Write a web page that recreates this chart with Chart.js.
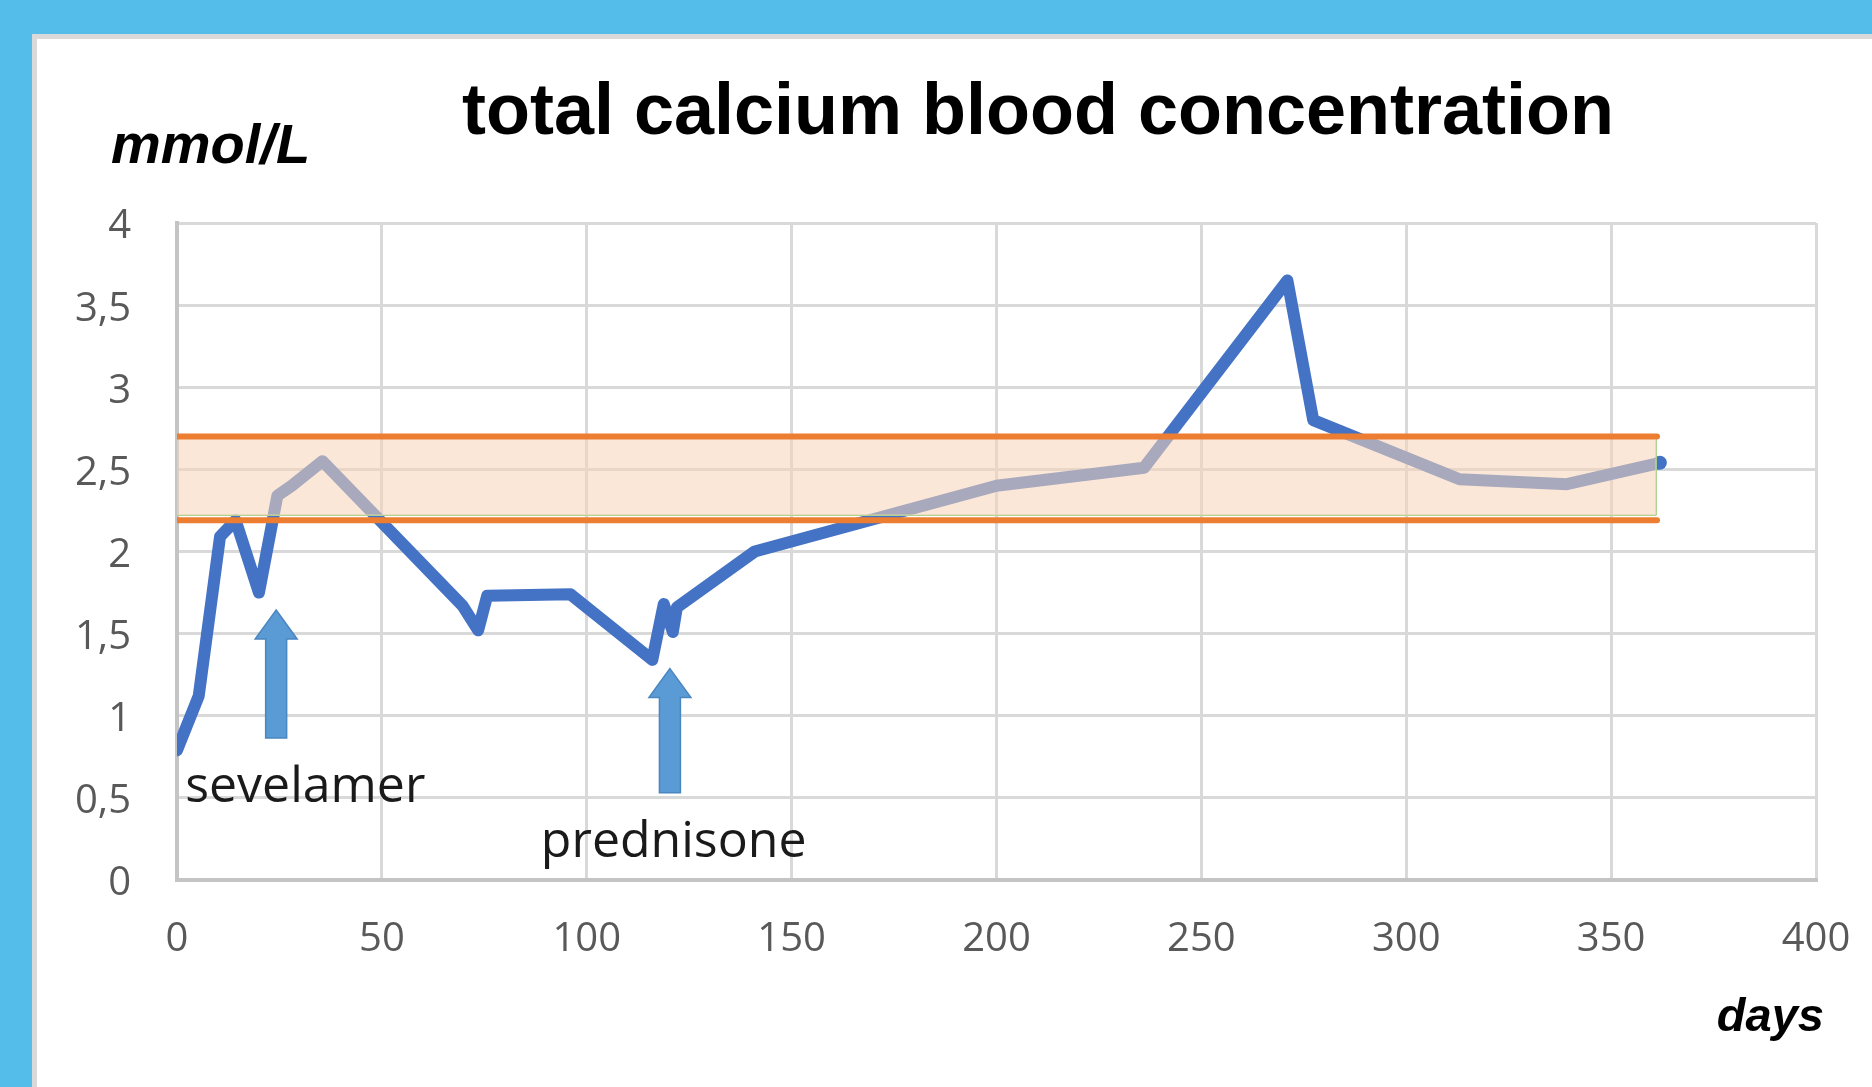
<!DOCTYPE html>
<html>
<head>
<meta charset="utf-8">
<script src="https://cdn.jsdelivr.net/npm/chart.js@4.4.1/dist/chart.umd.min.js"></script>
<style>
    html, body { margin: 0; padding: 0; }
    body { width: 1872px; height: 1087px; background: #54bdea; position: relative; overflow: hidden; }
    #panel {
        position: absolute; left: 32px; top: 34px; right: 0; bottom: 0;
        background: #ffffff; border-left: 5px solid #d9d9d9; border-top: 5px solid #d9d9d9;
    }
    #chart { position: absolute; left: 0; top: 0; }
</style>
</head>
<body>
<div id="panel"></div>
<canvas id="chart" width="1872" height="1087"></canvas>
<script>
// measured days and total calcium (mmol/L)
const days = [0, 5.3, 10.5, 14.3, 20, 24.5, 28, 35.5, 69.7, 73.5, 75.7, 96, 116, 118.8, 121, 122, 141, 200, 236, 271, 277.3, 313, 339.2, 361.9];
const calcium = [0.79, 1.12, 2.09, 2.19, 1.75, 2.34, 2.40, 2.55, 1.67, 1.52, 1.73, 1.74, 1.34, 1.68, 1.51, 1.66, 2.0, 2.40, 2.51, 3.65, 2.80, 2.44, 2.41, 2.54];

// reference range
const refLow = 2.19;
const refHigh = 2.70;
const bandLow = 2.22;
const bandHigh = 2.69;
const refStart = 0;
const refEnd = 361.2;
const bandEnd = 361;

// axis ticks
const xTicks = [0, 50, 100, 150, 200, 250, 300, 350, 400];
const yTicks = [0, 0.5, 1, 1.5, 2, 2.5, 3, 3.5, 4];

// treatment markers
const treatments = ['sevelamer', 'prednisone'];
const treatmentDay = [24.2, 120.3];
const arrowFrom = [0.865, 0.531];
const arrowTo = [1.644, 1.287];
const labelDay = [2, 88.8];
const labelValue = [0.475, 0.14];

const BLUE = '#4472c4';
const ORANGE = '#ed7d31';
const GREEN = '#a9d18e';

const pts = (xs, ys) => xs.map((x, i) => ({ x: x, y: ys[i] }));

const annotations = {
    id: 'annotations',
    afterDatasetsDraw(chart) {
        const ctx = chart.ctx;
        const xs = chart.scales.x, ys = chart.scales.y;

        // arrows
        treatmentDay.forEach((d, i) => {
            const cx = xs.getPixelForValue(d);
            const yTip = ys.getPixelForValue(arrowTo[i]);
            const yBot = ys.getPixelForValue(arrowFrom[i]);
            const headH = 29, headW = 21, shaftW = 10.5;
            ctx.save();
            ctx.beginPath();
            ctx.moveTo(cx, yTip);
            ctx.lineTo(cx + headW, yTip + headH);
            ctx.lineTo(cx + shaftW, yTip + headH);
            ctx.lineTo(cx + shaftW, yBot);
            ctx.lineTo(cx - shaftW, yBot);
            ctx.lineTo(cx - shaftW, yTip + headH);
            ctx.lineTo(cx - headW, yTip + headH);
            ctx.closePath();
            ctx.fillStyle = '#5b9bd5';
            ctx.fill();
            ctx.strokeStyle = '#4a86c0';
            ctx.lineWidth = 1.5;
            ctx.stroke();
            ctx.restore();
        });

        // treatment labels
        ctx.save();
        ctx.fillStyle = '#1a1a1a';
        ctx.font = '50px "Open Sans"';
        ctx.textAlign = 'left';
        ctx.textBaseline = 'alphabetic';
        treatments.forEach((t, i) => {
            ctx.fillText(t, xs.getPixelForValue(labelDay[i]), ys.getPixelForValue(labelValue[i]));
        });
        ctx.restore();
    },
    afterDraw(chart) {
        const ctx = chart.ctx;
        const area = chart.chartArea;
        ctx.save();
        ctx.fillStyle = '#000000';
        ctx.textBaseline = 'alphabetic';

        ctx.font = 'bold 72px "Liberation Sans", Arial, sans-serif';
        ctx.textAlign = 'center';
        ctx.fillText('total calcium blood concentration', 1038, 134);

        ctx.font = 'italic bold 56px "Liberation Sans", Arial, sans-serif';
        ctx.textAlign = 'left';
        ctx.fillText('mmol/L', 111, 163);

        ctx.font = 'italic bold 47px "Liberation Sans", Arial, sans-serif';
        ctx.textAlign = 'right';
        ctx.fillText('days', area.right + 8, 1031);
        ctx.restore();
    }
};

new Chart(document.getElementById('chart'), {
    type: 'line',
    data: {
        datasets: [
            {
                label: 'calcium',
                data: pts(days, calcium),
                borderColor: BLUE,
                backgroundColor: BLUE,
                borderWidth: 12,
                borderJoinStyle: 'round',
                borderCapStyle: 'round',
                pointRadius: c => (c.dataIndex === days.length - 1 ? 7 : 0),
                pointBorderWidth: 0,
                fill: false,
                order: 3
            },
            {
                label: 'band top',
                data: pts([refStart, bandEnd], [bandHigh, bandHigh]),
                borderColor: GREEN,
                borderWidth: 1.5,
                backgroundColor: 'rgba(248, 212, 184, 0.56)',
                pointRadius: 0,
                fill: '+1',
                order: 2
            },
            {
                label: 'band bottom',
                data: pts([refStart, bandEnd], [bandLow, bandLow]),
                borderColor: GREEN,
                borderWidth: 1.5,
                pointRadius: 0,
                fill: false,
                order: 2
            },
            {
                label: 'band edge',
                data: pts([bandEnd, bandEnd], [bandLow, bandHigh]),
                borderColor: GREEN,
                borderWidth: 1.5,
                pointRadius: 0,
                fill: false,
                order: 2
            },
            {
                label: 'upper limit',
                data: pts([refStart, refEnd], [refHigh, refHigh]),
                borderColor: ORANGE,
                borderWidth: 6,
                borderCapStyle: 'round',
                pointRadius: 0,
                fill: false,
                order: 1
            },
            {
                label: 'lower limit',
                data: pts([refStart, refEnd], [refLow, refLow]),
                borderColor: ORANGE,
                borderWidth: 6,
                borderCapStyle: 'round',
                pointRadius: 0,
                fill: false,
                order: 1
            }
        ]
    },
    options: {
        responsive: false,
        animation: false,
        layout: { padding: { left: 0, top: 223, right: 56, bottom: 107 } },
        plugins: {
            legend: { display: false },
            tooltip: { enabled: false },
            title: { display: false }
        },
        scales: {
            x: {
                type: 'linear',
                min: xTicks[0],
                max: xTicks[xTicks.length - 1],
                afterBuildTicks: s => { s.ticks = xTicks.map(v => ({ value: v })); },
                afterFit: s => { s.height = 100; s.paddingLeft = 0; s.paddingRight = 0; },
                grid: { color: '#d9d9d9', lineWidth: 3, drawTicks: false },
                border: { color: '#c4c4c4', width: 4 },
                ticks: {
                    padding: 36,
                    color: '#595959',
                    font: { family: 'Open Sans', size: 40 },
                    maxRotation: 0
                }
            },
            y: {
                min: yTicks[0],
                max: yTicks[yTicks.length - 1],
                afterBuildTicks: s => { s.ticks = yTicks.map(v => ({ value: v })); },
                afterFit: s => { s.width = 177; },
                grid: { color: '#d9d9d9', lineWidth: 3, drawTicks: false },
                border: { color: '#c4c4c4', width: 4 },
                ticks: {
                    padding: 46,
                    labelOffset: 4,
                    color: '#595959',
                    font: { family: 'Open Sans', size: 40 },
                    callback: v => String(v).replace('.', ',')
                }
            }
        }
    },
    plugins: [annotations]
});
</script>
</body>
</html>
